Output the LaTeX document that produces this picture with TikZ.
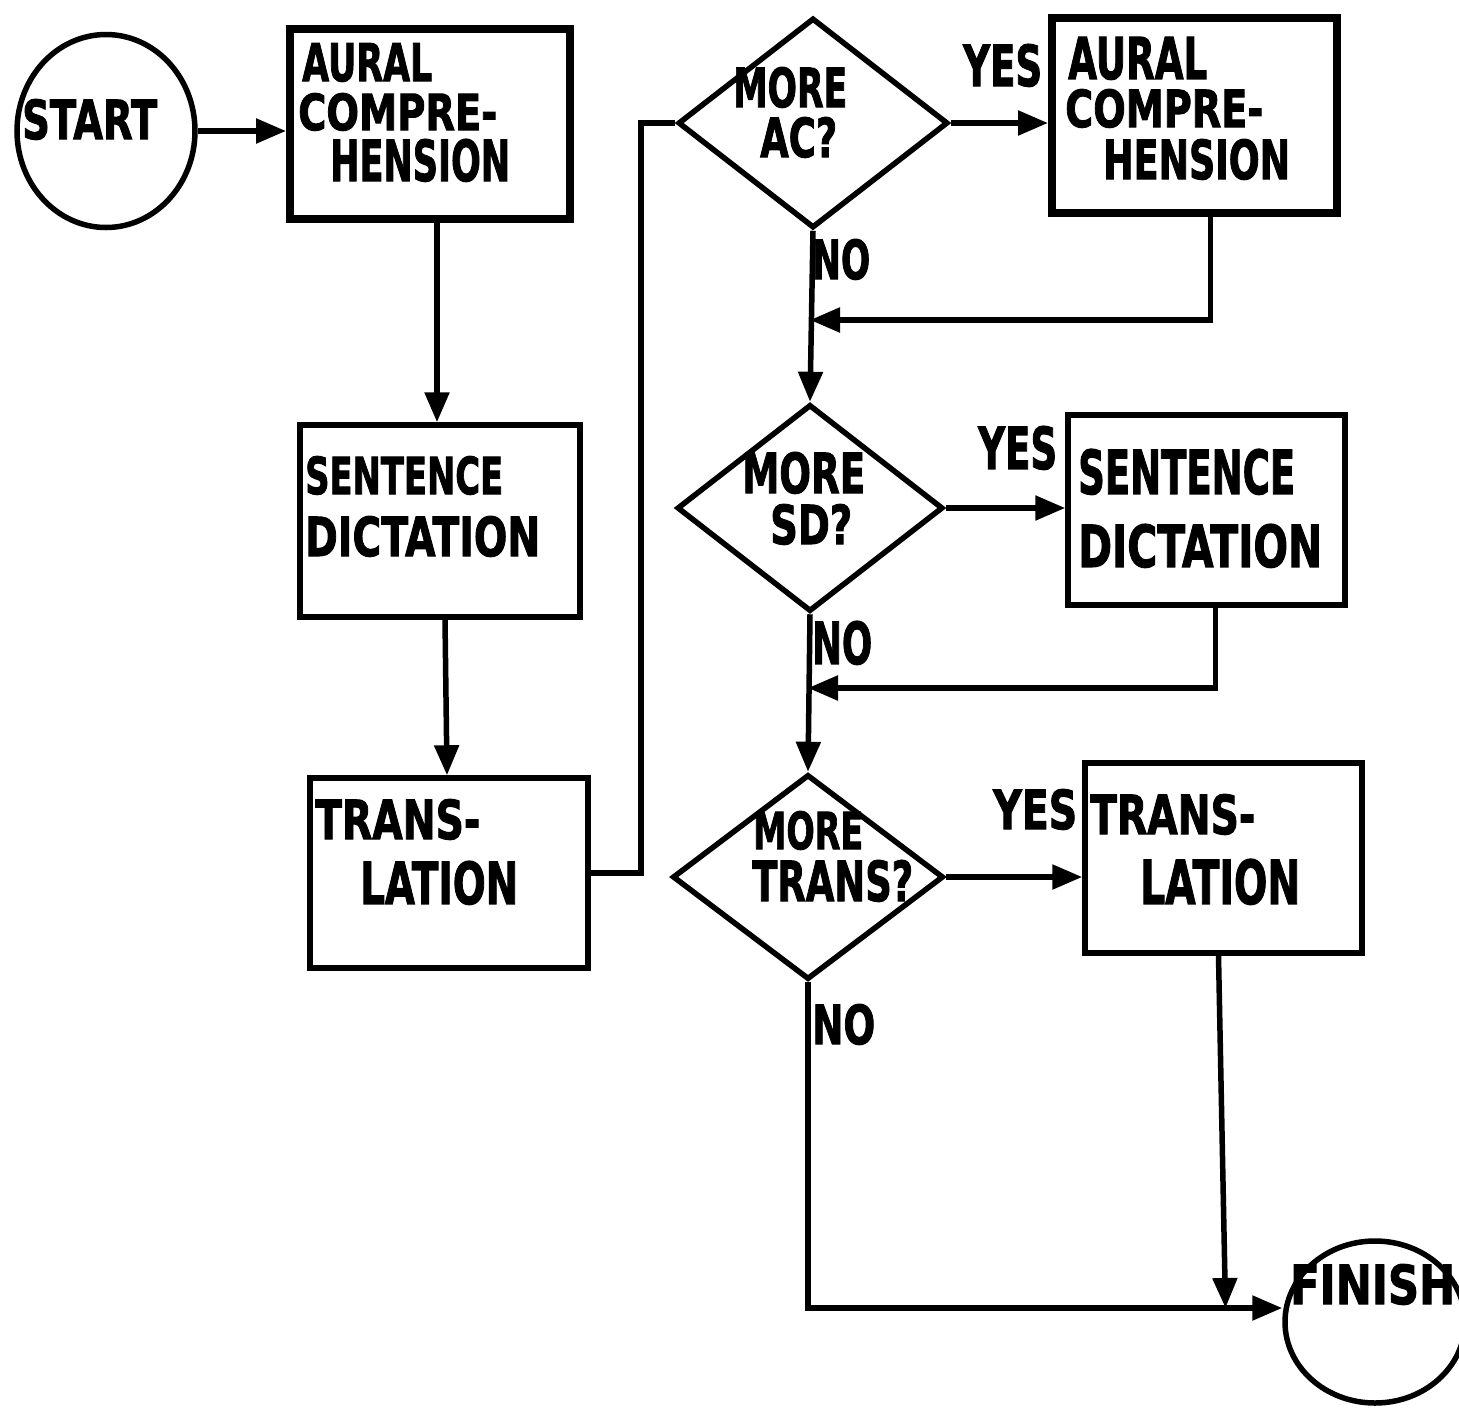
\documentclass[tikz,border=0pt]{standalone}
\usepackage{fontspec}
\setmainfont{DejaVu Sans}[BoldFeatures={FakeBold=2}]
\usetikzlibrary{shapes.geometric,arrows.meta}
\newcommand\fitt[3]{\resizebox{#1pt}{#2pt}{\bfseries #3}}
\begin{document}
\begin{tikzpicture}[x=1pt,y=-1pt,
  box/.style={draw,line width=5.5pt,rectangle,inner sep=0pt},
  thickbox/.style={draw,line width=8pt,rectangle,inner sep=0pt},
  dia/.style={draw,line width=5.5pt,diamond,inner sep=0pt},
  term/.style={draw,line width=5.5pt,ellipse,inner sep=0pt},
  lbl/.style={anchor=south west,inner sep=0pt},
  conn/.style={line width=5.5pt},
  arr/.style={line width=5.5pt,-{Triangle[length=30pt,width=24pt]}}]
\useasboundingbox (0,0) rectangle (1459,1409);
% shapes
\node[term,minimum width=178pt,minimum height=193pt] (start) at (106,131) {};
\node[thickbox,minimum width=280pt,minimum height=190pt] (ac1) at (430,124) {};
\node[box,minimum width=280pt,minimum height=192pt] (sd1) at (440,521) {};
\node[box,minimum width=278pt,minimum height=190pt] (tr1) at (449,873) {};
\node[dia,minimum width=270pt,minimum height=210pt] (d1) at (813,123) {};
\node[thickbox,minimum width=285pt,minimum height=195pt] (ac2) at (1194.5,115.5) {};
\node[dia,minimum width=266pt,minimum height=207pt] (d2) at (810,508) {};
\node[box,minimum width=277pt,minimum height=190pt] (sd2) at (1206.5,510) {};
\node[dia,minimum width=271pt,minimum height=205pt] (d3) at (808,877) {};
\node[box,minimum width=277pt,minimum height=190pt] (tr2) at (1223.5,858) {};
\node[term,minimum width=180pt,minimum height=162pt] (finish) at (1375,1322) {};
% texts
\node[lbl] (tstart) at (22,140) {\fitt{135}{40}{START}};
\node[lbl] (tac1a) at (302,82) {\fitt{130}{38}{AURAL}};
\node[lbl] (tac1b) at (298,131) {\fitt{199}{37}{COMPRE-}};
\node[lbl] (tac1c) at (330,182) {\fitt{180}{42}{HENSION}};
\node[lbl] (tsd1a) at (305,495) {\fitt{198}{38}{SENTENCE}};
\node[lbl] (tsd1b) at (305,557) {\fitt{235}{40}{DICTATION}};
\node[lbl] (ttr1a) at (315,840) {\fitt{165}{40}{TRANS-}};
\node[lbl] (ttr1b) at (360,905) {\fitt{158}{43}{LATION}};
\node[lbl] (td1a) at (733,108) {\fitt{114}{40}{MORE}};
\node[lbl] (td1b) at (760,158) {\fitt{77}{40}{AC?}};
\node[lbl] (tyes1) at (963,87) {\fitt{79}{42}{YES}};
\node[lbl] (tac2a) at (1068,80) {\fitt{139}{42}{AURAL}};
\node[lbl] (tac2b) at (1065,128) {\fitt{198}{38}{COMPRE-}};
\node[lbl] (tac2c) at (1103,180) {\fitt{187}{40}{HENSION}};
\node[lbl] (tno1) at (812,280) {\fitt{58}{40}{NO}};
\node[lbl] (td2a) at (742,494) {\fitt{123}{41}{MORE}};
\node[lbl] (td2b) at (770,545) {\fitt{82}{40}{SD?}};
\node[lbl] (tyes2) at (978,470) {\fitt{79}{43}{YES}};
\node[lbl] (tsd2a) at (1078,495) {\fitt{217}{45}{SENTENCE}};
\node[lbl] (tsd2b) at (1078,568) {\fitt{244}{43}{DICTATION}};
\node[lbl] (tno2) at (812,665) {\fitt{60}{43}{NO}};
\node[lbl] (td3a) at (753,850) {\fitt{110}{38}{MORE}};
\node[lbl] (td3b) at (752,902) {\fitt{161}{41}{TRANS?}};
\node[lbl] (tyes3) at (993,830) {\fitt{84}{40}{YES}};
\node[lbl] (ttr2a) at (1090,835) {\fitt{165}{40}{TRANS-}};
\node[lbl] (ttr2b) at (1140,905) {\fitt{160}{45}{LATION}};
\node[lbl] (tno3) at (812,1045) {\fitt{63}{40}{NO}};
\node[lbl] (tfinish) at (1290,1305) {\fitt{165}{40}{FINISH}};
% junction points
\coordinate (m1) at (810,320);
\coordinate (m2) at (808,688);
\coordinate (m3) at (808,1308);
% connectors
\draw[arr] (start.east) -- (ac1.west |- start.east);
\draw[arr] ([xshift=7pt]ac1.south) -- ([xshift=-3pt]sd1.north);
\draw[arr] ([xshift=5pt]sd1.south) -- ([xshift=-2pt]tr1.north);
\draw[conn] (tr1.east) -- ++(50,0) |- (d1.west);
\draw[arr] (d1.east) -- (d1.east -| ac2.west);
\draw[arr] (d1.south) -- (d2.north);
\draw[arr] ([xshift=16pt]ac2.south) |- (m1);
\draw[arr] (d2.east) -- (d2.east -| sd2.west);
\draw[arr] (d2.south) -- (d3.north);
\draw[arr] ([xshift=9pt]sd2.south) |- (m2);
\draw[arr] (d3.east) -- (d3.east -| tr2.west);
\draw[arr] (d3.south) -- (m3) -- (finish.west |- m3);
\draw[arr] ([xshift=-5pt]tr2.south) -- ([xshift=2pt]tr2.south |- m3);
\end{tikzpicture}
\end{document}
